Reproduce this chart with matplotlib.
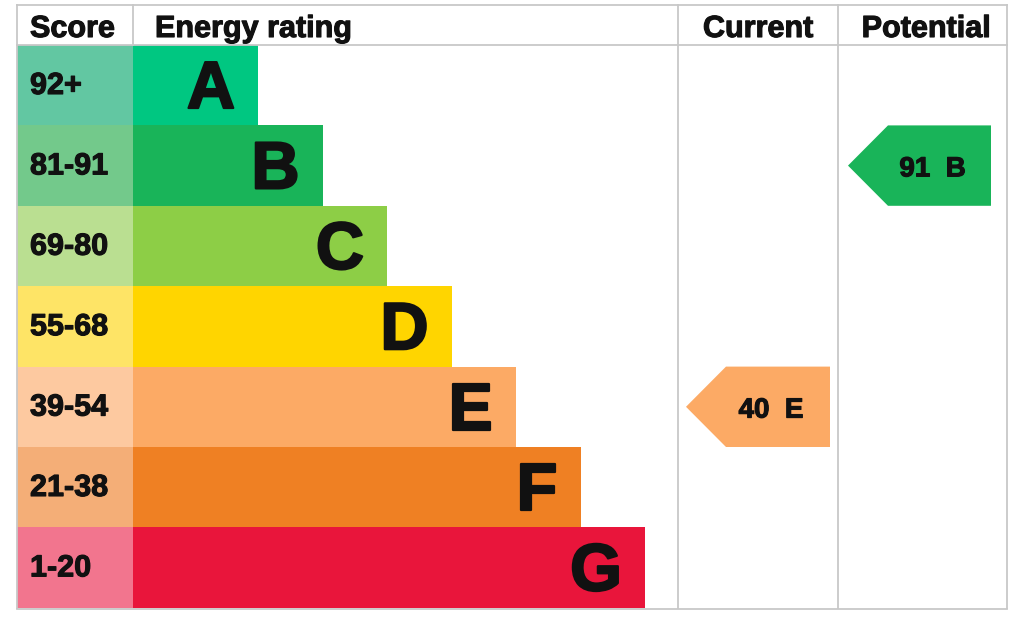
import matplotlib
matplotlib.use("Agg")
import matplotlib.pyplot as plt
from matplotlib.patches import Polygon
import matplotlib.patheffects as pe

plt.rcParams['font.family'] = ['Liberation Sans', 'DejaVu Sans']

letters = ["A", "B", "C", "D", "E", "F", "G"]
score_labels = ["92+", "81-91", "69-80", "55-68", "39-54", "21-38", "1-20"]
band_colors = ["#00c781", "#19b459", "#8dce46", "#ffd500", "#fcaa65", "#ef8023", "#e9153b"]
score_colors = ["#62c7a2", "#73c98b", "#badf91", "#fee466", "#fdc9a0", "#f4ae77", "#f2758e"]
current_score = 40
current_letter = "E"
potential_score = 91
potential_letter = "B"
headers = ["Score", "Energy rating", "Current", "Potential"]

W, H = 1024, 627
fig = plt.figure(figsize=(W / 100, H / 100), dpi=100)
ax = fig.add_axes([0, 0, 1, 1])
ax.set_xlim(0, W)
ax.set_ylim(H, 0)
ax.axis('off')

thick = [pe.withStroke(linewidth=0.8, foreground='#111111')]
thick_big = [pe.withStroke(linewidth=1.6, foreground='#111111')]

left, score_right = 17, 133
cur_l, cur_r, pot_r = 678, 838, 1007
top, head_b = 5, 45
band_h = 80.4
bottom = head_b + band_h * len(letters)

def band_index(score):
    lows = [92, 81, 69, 55, 39, 21, 1]
    for i, lo in enumerate(lows):
        if score >= lo:
            return i
    return len(lows) - 1

# bands
for i, (let, lab, bc, sc) in enumerate(zip(letters, score_labels, band_colors, score_colors)):
    y0 = head_b + band_h * i
    yc = y0 + band_h / 2
    bar_w = 125 + 64.5 * i
    ax.barh(yc, score_right - left, left=left, height=band_h, color=sc, edgecolor='none')
    ax.barh(yc, bar_w, left=score_right, height=band_h, color=bc, edgecolor='none')
    ax.text(30, y0 + 49, lab, ha='left', va='baseline', fontsize=22, fontweight='bold',
            color='#111111', path_effects=thick)
    ax.text(score_right + bar_w - 23, y0 + 63, let, ha='right', va='baseline', fontsize=48,
            fontweight='bold', color='#111111', path_effects=thick_big)

# grid lines
lc = '#c8c8c8'
lw = 1.3
ax.plot([left, pot_r], [top, top], color=lc, lw=lw)
ax.plot([left, pot_r], [head_b, head_b], color=lc, lw=lw)
ax.plot([left, pot_r], [bottom + 1, bottom + 1], color=lc, lw=lw)
ax.plot([left, left], [top, bottom], color=lc, lw=lw)
ax.plot([score_right, score_right], [top, head_b], color=lc, lw=lw)
ax.plot([cur_l, cur_l], [top, bottom], color=lc, lw=lw)
ax.plot([cur_r, cur_r], [top, bottom], color=lc, lw=lw)
ax.plot([pot_r, pot_r], [top, bottom], color=lc, lw=lw)

# headers
hy = 37
hkw = dict(va='baseline', fontsize=22, fontweight='bold', color='#111111', path_effects=thick)
ax.text(30, hy, headers[0], ha='left', **hkw)
ax.text(155, hy, headers[1], ha='left', **hkw)
ax.text(758, hy, headers[2], ha='center', **hkw)
ax.text(926, hy, headers[3], ha='center', **hkw)

# arrows
def arrow(x_tip, x_right, score, letter):
    i = band_index(score)
    y0 = head_b + band_h * i
    y1 = y0 + band_h
    yc = (y0 + y1) / 2
    pts = [(x_tip, yc), (x_tip + 40, y0), (x_right, y0), (x_right, y1), (x_tip + 40, y1)]
    ax.add_patch(Polygon(pts, closed=True, facecolor=band_colors[i], edgecolor='none'))
    ax.text((x_tip + 40 + x_right) / 2 - 7, y0 + 51, f"{score}  {letter}", ha='center', va='baseline',
            fontsize=20, fontweight='bold', color='#111111', path_effects=thick)

arrow(686, 830, current_score, current_letter)
arrow(848, 991, potential_score, potential_letter)

fig.savefig('out.png', dpi=100)
